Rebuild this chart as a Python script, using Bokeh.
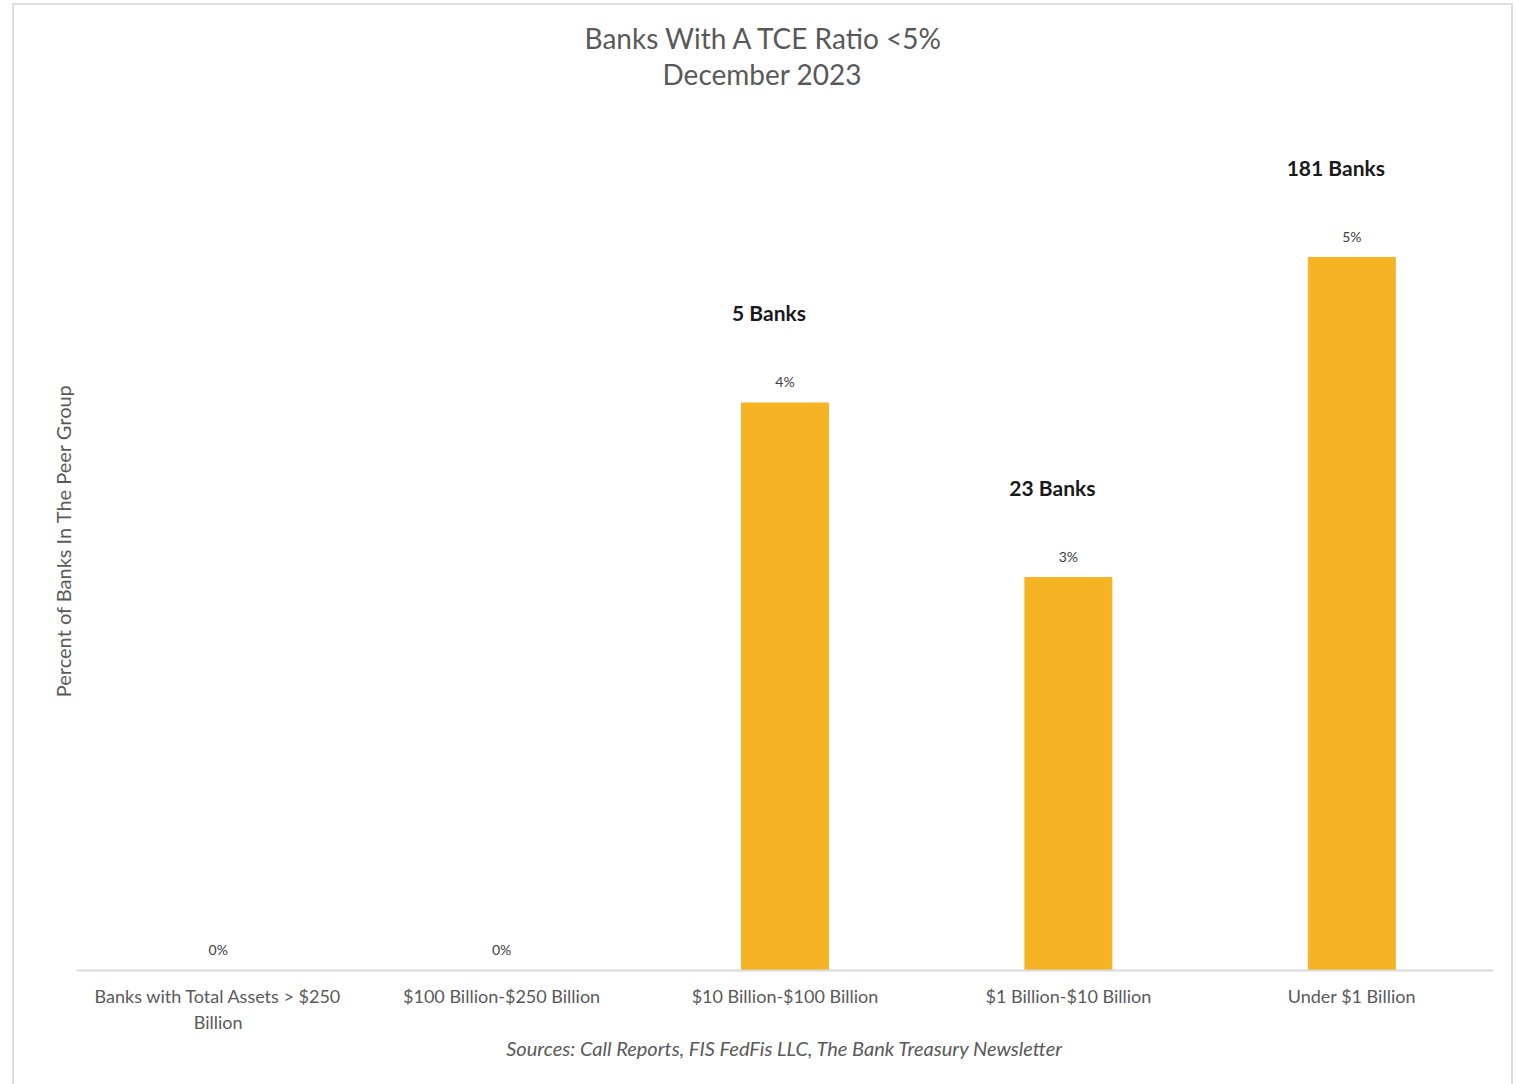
from bokeh.plotting import figure
from bokeh.models import ColumnDataSource, Range1d, FactorRange, FixedTicker, Title
from bokeh.core.properties import value
from bokeh.embed import file_html
from bokeh.resources import INLINE

categories = ["Banks with Total Assets > $250\nBillion", "$100 Billion-$250 Billion",
              "$10 Billion-$100 Billion", "$1 Billion-$10 Billion", "Under $1 Billion"]
percent_values = [0.0, 0.0, 3.9, 2.7, 4.9]
percent_labels = ["0%", "0%", "4%", "3%", "5%"]
bank_counts = ["", "", "5 Banks", "23 Banks", "181 Banks"]

FONT = "Lato"
GRAY = "#595959"

src = ColumnDataSource(dict(cat=categories, val=percent_values, plab=percent_labels, blab=bank_counts))

p = figure(width=1497, height=1079, x_range=FactorRange(factors=categories),
           y_range=Range1d(0, 5.91), output_backend="svg", toolbar_location=None,
           min_border_left=62, min_border_right=18, min_border_top=105, min_border_bottom=114,
           title=None)
p.margin = (5, 0, 0, 14)
p.styles = {"outline": "2px solid #dedede"}
p.outline_line_color = None
p.xgrid.grid_line_color = None
p.ygrid.grid_line_color = None

p.add_layout(Title(text="December 2023", align="left", offset=586, text_font=FONT, text_font_size="28px",
                   text_color=GRAY, text_font_style="normal", standoff=40), "above")
p.add_layout(Title(text="Banks With A TCE Ratio <5%", align="left", offset=508, text_font=FONT,
                   text_font_size="28px", text_color=GRAY, text_font_style="normal", standoff=-40), "above")

p.vbar(x="cat", top="val", width=0.307, color="#F6B324", source=src)

p.text(x="cat", y="val", text="plab", source=src, text_align="center", text_baseline="middle",
       y_offset=-21, text_font=value(FONT), text_font_size="14px", text_color="#404040")
p.text(x="cat", y="val", text="blab", source=src, text_align="center", text_baseline="middle",
       x_offset=-16, y_offset=-90, text_font=value(FONT), text_font_size="21px", text_color="#1a1a1a",
       text_font_style="bold")

xa = p.xaxis[0]
xa.axis_line_color = "#d9d9d9"
xa.axis_line_width = 2
xa.major_tick_line_color = None
xa.minor_tick_line_color = None
xa.major_label_text_font = FONT
xa.major_label_text_font_size = "18px"
xa.major_label_text_color = GRAY
xa.major_label_standoff = 8
xa.axis_label = "Sources: Call Reports, FIS FedFis LLC, The Bank Treasury Newsletter"
xa.axis_label_text_font = FONT
xa.axis_label_text_font_style = "italic"
xa.axis_label_text_font_size = "20px"
xa.axis_label_text_color = GRAY
xa.axis_label_standoff = 0

ya = p.yaxis[0]
ya.ticker = FixedTicker(ticks=[])
ya.axis_line_color = None
ya.major_tick_line_color = None
ya.minor_tick_line_color = None
ya.axis_label = "Percent of Banks In The Peer Group"
ya.axis_label_text_font = FONT
ya.axis_label_text_font_style = "normal"
ya.axis_label_text_font_size = "20px"
ya.axis_label_text_color = GRAY
ya.axis_label_standoff = 2

open("out.html", "w").write(file_html(p, INLINE))
